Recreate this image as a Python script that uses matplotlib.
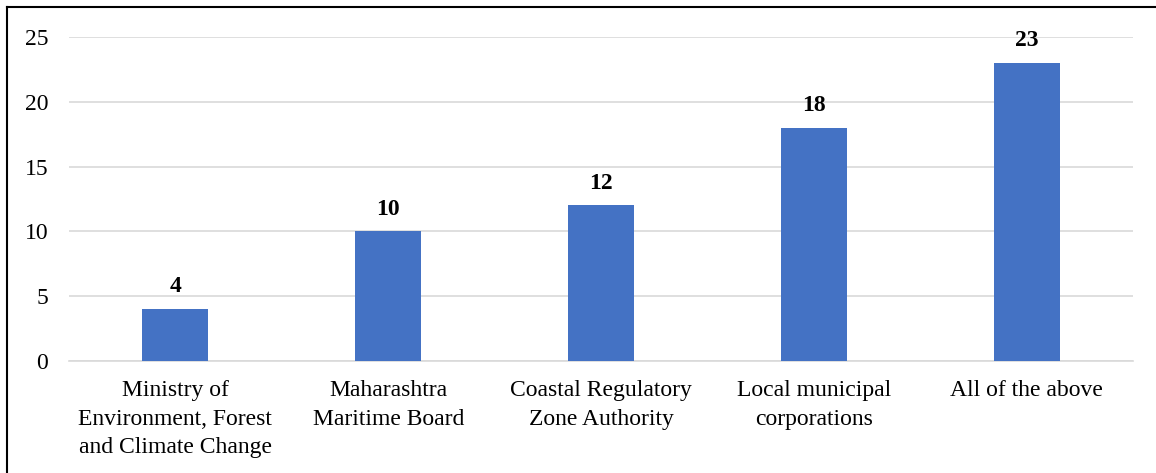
import matplotlib.pyplot as plt
from matplotlib.lines import Line2D

categories = [
    "Ministry of\nEnvironment, Forest\nand Climate Change",
    "Maharashtra\nMaritime Board",
    "Coastal Regulatory\nZone Authority",
    "Local municipal\ncorporations",
    "All of the above",
]
counts = [4, 10, 12, 18, 23]
y_ticks = [0, 5, 10, 15, 20, 25]

plt.rcParams['font.family'] = ['Liberation Serif', 'DejaVu Serif']

fig = plt.figure(figsize=(11.56, 4.73), dpi=100)
ax = fig.add_axes([69 / 1156, 1 - 361 / 473, (1133 - 69) / 1156, (361 - 37) / 473])

x = range(len(categories))
bars = ax.bar(x, counts, width=0.31, color='#4472C4', zorder=3)

for xi, val in zip(x, counts):
    ax.annotate(str(val), (xi, val), xytext=(0, 12), textcoords='offset points',
                ha='center', va='baseline', fontsize=17, fontweight='bold',
                color='black', annotation_clip=False)

ax.set_xlim(-0.5, len(categories) - 0.5)
ax.set_ylim(0, 25)
ax.set_yticks(y_ticks)
ax.set_xticks(list(x))
ax.set_xticklabels(categories, fontsize=17, linespacing=1.45)
ax.tick_params(axis='y', length=0, pad=15, labelsize=17, colors='#000000')
ax.tick_params(axis='x', length=0, pad=14)

ax.grid(axis='y', color='#d9d9d9', linewidth=1.2, zorder=0)
for side in ['left', 'right', 'top']:
    ax.spines[side].set_visible(False)
ax.spines['bottom'].set_color('#d9d9d9')
ax.spines['bottom'].set_linewidth(1.2)

# outer frame (only top and left edges are visible in the crop)
fig.add_artist(Line2D([7 / 1156, 7 / 1156], [0, 1 - 7 / 473], color='black', linewidth=1.5,
                      transform=fig.transFigure))
fig.add_artist(Line2D([7 / 1156, 1], [1 - 7 / 473, 1 - 7 / 473], color='black', linewidth=1.5,
                      transform=fig.transFigure))

fig.savefig('out.png', dpi=100)
